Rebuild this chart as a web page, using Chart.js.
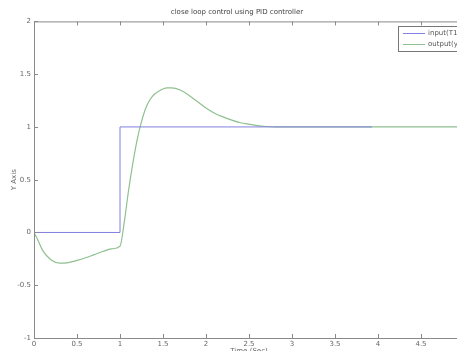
<!DOCTYPE html>
<html lang="en">
<head>
<meta charset="UTF-8">
<title>PID</title>
<script src="https://cdn.jsdelivr.net/npm/chart.js@4.4.0/dist/chart.umd.min.js"></script>
<style>
  html, body { margin: 0; padding: 0; background: #fff; overflow: hidden; }
  #wrap { width: 480px; height: 355px; }
</style>
</head>
<body>
<div id="wrap"><canvas id="myChart"></canvas></div>
<script>
// input step (T1)
const inputX = [0, 1, 1, 3.93];
const inputY = [0, 0, 1, 1];

// output response (y1)
const outX = [0, 0.05, 0.1, 0.2, 0.3, 0.4, 0.5, 0.6, 0.7, 0.8, 0.9, 1.0,
              1.05, 1.1, 1.15, 1.2, 1.25, 1.3, 1.35, 1.4, 1.5, 1.55, 1.6, 1.7, 1.8, 1.9,
              2.0, 2.1, 2.2, 2.3, 2.4, 2.5, 2.6, 2.7, 2.8, 3.0, 3.5, 4.0, 4.5, 5.0];
const outY = [0, -0.08, -0.17, -0.26, -0.29, -0.285, -0.265, -0.24, -0.21, -0.18, -0.155, -0.13,
              0.1, 0.4, 0.66, 0.88, 1.05, 1.18, 1.26, 1.31, 1.36, 1.37, 1.37, 1.35, 1.30, 1.24,
              1.18, 1.13, 1.095, 1.065, 1.04, 1.025, 1.012, 1.004, 1.0, 1.0, 1.0, 1.0, 1.0, 1.0];

const xTicks = [0, 0.5, 1, 1.5, 2, 2.5, 3, 3.5, 4, 4.5, 5];
const yTicks = [-1, -0.5, 0, 0.5, 1, 1.5, 2];
const labels = ['input(T1)', 'output(y1)'];

const axisColor = '#8a8a8a';
const blue = '#8080e0';
const green = '#8fc08f';

function pts(xs, ys) { return xs.map((x, i) => ({x: x, y: ys[i]})); }

// matlab style box + inward ticks + legend
const boxPlugin = {
  id: 'box',
  afterDraw(chart) {
    const ctx = chart.ctx, a = chart.chartArea;
    const xs = chart.scales.x, ys = chart.scales.y;
    ctx.save();
    ctx.strokeStyle = axisColor;
    ctx.lineWidth = 1;
    ctx.strokeRect(a.left + 0.5, a.top + 0.5, a.right - a.left, a.bottom - a.top);
    ctx.beginPath();
    xTicks.forEach(v => {
      const px = Math.round(xs.getPixelForValue(v)) + 0.5;
      ctx.moveTo(px, a.bottom); ctx.lineTo(px, a.bottom - 4);
      ctx.moveTo(px, a.top); ctx.lineTo(px, a.top + 4);
    });
    yTicks.forEach(v => {
      const py = Math.round(ys.getPixelForValue(v)) + 0.5;
      ctx.moveTo(a.left, py); ctx.lineTo(a.left + 4, py);
    });
    ctx.stroke();

    // legend
    const lx = 398, ly = 26;
    ctx.fillStyle = '#fff';
    ctx.fillRect(lx, ly, 80, 25);
    ctx.strokeStyle = '#777';
    ctx.strokeRect(lx + 0.5, ly + 0.5, 80, 25);
    ctx.font = '7px "DejaVu Sans", sans-serif';
    ctx.textBaseline = 'middle';
    chart.data.datasets.forEach((ds, i) => {
      const y = ly + 7.5 + i * 11;
      ctx.strokeStyle = ds.borderColor;
      ctx.beginPath(); ctx.moveTo(lx + 5, y); ctx.lineTo(lx + 27, y); ctx.stroke();
      ctx.fillStyle = '#555';
      ctx.fillText(labels[i], lx + 30, y);
    });
    ctx.restore();
  }
};

const tickFont = { family: 'DejaVu Sans', size: 7 };

const ctx = document.getElementById('myChart').getContext('2d');
new Chart(ctx, {
  type: 'line',
  data: {
    datasets: [{
      label: labels[0],
      data: pts(inputX, inputY),
      borderColor: blue,
      borderWidth: 1,
      pointRadius: 0,
      tension: 0,
      order: 0
    }, {
      label: labels[1],
      data: pts(outX, outY),
      borderColor: green,
      borderWidth: 1.2,
      pointRadius: 0,
      cubicInterpolationMode: 'monotone',
      order: 1
    }]
  },
  options: {
    responsive: true,
    maintainAspectRatio: false,
    animation: false,
    layout: { padding: { left: 10, right: 16, top: 0, bottom: 0 } },
    plugins: {
      legend: { display: false },
      tooltip: { enabled: false },
      title: {
        display: true,
        text: 'close loop control using PID controller',
        color: '#444',
        font: { family: 'DejaVu Sans', size: 7, weight: 'normal' },
        padding: { top: 8, bottom: 5 }
      }
    },
    scales: {
      x: {
        type: 'linear',
        min: 0, max: 5,
        afterBuildTicks(s) { s.ticks = xTicks.map(v => ({value: v})); },
        afterFit(s) { s.height = 17; },
        grid: { display: false, drawTicks: false },
        border: { display: false },
        ticks: { color: '#666', font: tickFont, padding: 2, maxRotation: 0, callback: v => String(v) },
        title: { display: true, text: 'Time (Sec)', color: '#666', font: tickFont, padding: 0 }
      },
      y: {
        type: 'linear',
        min: -1, max: 2,
        afterBuildTicks(s) { s.ticks = yTicks.map(v => ({value: v})); },
        afterFit(s) { s.width = 24; },
        grid: { display: false, drawTicks: false },
        border: { display: false },
        ticks: { color: '#666', font: tickFont, padding: 3, callback: v => String(v) },
        title: { display: true, text: 'Y Axis', color: '#666', font: tickFont, padding: 0 }
      }
    }
  },
  plugins: [boxPlugin]
});
</script>
</body>
</html>
